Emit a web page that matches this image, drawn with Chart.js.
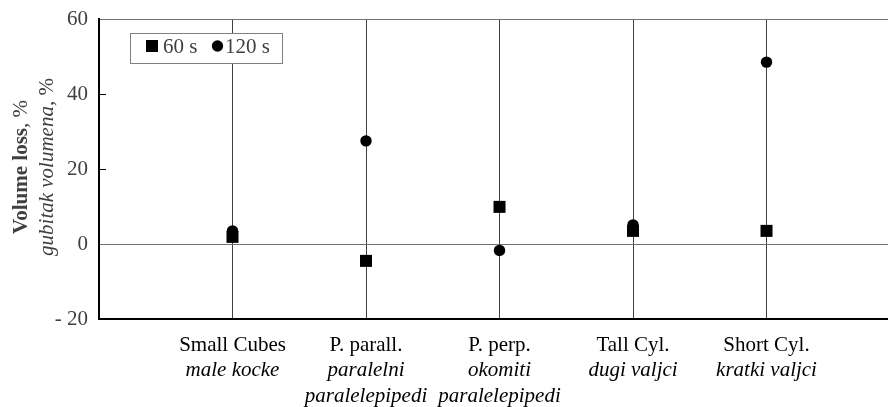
<!DOCTYPE html>
<html>
<head>
<meta charset="utf-8">
<script src="https://cdn.jsdelivr.net/npm/chart.js@4.4.0/dist/chart.umd.min.js"></script>
<style>
html,body{margin:0;padding:0;background:#fff;}
#wrap{width:888px;height:407px;position:relative;}
</style>
</head>
<body>
<div id="wrap"><canvas id="c" width="888" height="407"></canvas></div>
<script>
// ---- data ----
const categories = ['Small Cubes', 'P. parall.', 'P. perp.', 'Tall Cyl.', 'Short Cyl.'];
const categoriesLocal = [['male kocke'], ['paralelni', 'paralelepipedi'], ['okomiti', 'paralelepipedi'], ['dugi valjci'], ['kratki valjci']];
const series60 = [1.9, -4.5, 9.9, 3.5, 3.5];
const series120 = [3.5, 27.5, -1.7, 5.1, 48.5];
const seriesNames = ['60 s', '120 s'];
const yTicks = [-20, 0, 20, 40, 60];

const SERIF = '"Liberation Serif", "Times New Roman", serif';
const FS = 21;

function pts(arr){ return arr.map((v,i)=>({x:i+1, y:v})); }

const overlay = {
  id:'overlay',
  beforeDatasetsDraw(chart){
    const ctx = chart.ctx, ys = chart.scales.y, ca = chart.chartArea;
    ctx.save();
    ctx.strokeStyle = '#000'; ctx.lineWidth = 1;
    [20,40].forEach(v=>{
      const y = Math.round(ys.getPixelForValue(v))+0.5;
      ctx.beginPath(); ctx.moveTo(ca.left, y); ctx.lineTo(ca.left+7, y); ctx.stroke();
    });
    ctx.restore();
  },
  afterDraw(chart){
    const ctx = chart.ctx, xs = chart.scales.x;
    ctx.save();
    // x category labels
    ctx.textAlign = 'center'; ctx.textBaseline = 'alphabetic'; ctx.fillStyle = '#000';
    categories.forEach((c,i)=>{
      const x = xs.getPixelForValue(i+1);
      ctx.font = FS+'px '+SERIF;
      ctx.fillText(c, x, 351);
      ctx.font = 'italic '+FS+'px '+SERIF;
      categoriesLocal[i].forEach((l,j)=>ctx.fillText(l, x, 376 + j*26));
    });
    // y title (rotated, mixed fonts)
    function mixed(parts, cx, cy){
      let total = 0;
      parts.forEach(p=>{ctx.font = p[1]; total += ctx.measureText(p[0]).width;});
      ctx.save(); ctx.translate(cx, cy); ctx.rotate(-Math.PI/2);
      ctx.textAlign='left'; ctx.fillStyle='#404040';
      let x = -total/2;
      parts.forEach(p=>{ctx.font=p[1]; ctx.fillText(p[0], x, 0); x += ctx.measureText(p[0]).width;});
      ctx.restore();
    }
    mixed([['Volume loss', 'bold '+FS+'px '+SERIF], [', %', FS+'px '+SERIF]], 27, 167);
    mixed([['gubitak volumena', 'italic '+FS+'px '+SERIF], [', %', FS+'px '+SERIF]], 53, 167);
    // legend
    ctx.fillStyle='#fff'; ctx.fillRect(130.5, 33.5, 152, 30);
    ctx.strokeStyle='#808080'; ctx.lineWidth=1; ctx.strokeRect(130.5, 33.5, 152, 30);
    ctx.fillStyle='#000';
    ctx.fillRect(146, 40, 12, 12);
    ctx.beginPath(); ctx.arc(217.5, 46, 5.7, 0, Math.PI*2); ctx.fill();
    ctx.fillStyle='#404040'; ctx.font = FS+'px '+SERIF; ctx.textAlign='left'; ctx.textBaseline='alphabetic';
    ctx.fillText(seriesNames[0], 163, 53);
    ctx.fillText(seriesNames[1], 225, 53);
    ctx.restore();
  }
};

new Chart(document.getElementById('c'), {
  type:'scatter',
  data:{
    datasets:[
      {label:seriesNames[0], data:pts(series60), pointStyle:'rect', pointRadius:8.5, pointHoverRadius:8.5, backgroundColor:'#000', borderColor:'#000', borderWidth:0},
      {label:seriesNames[1], data:pts(series120), pointStyle:'circle', pointRadius:5.7, pointHoverRadius:5.7, backgroundColor:'#000', borderColor:'#000', borderWidth:0}
    ]
  },
  options:{
    responsive:false, animation:false, devicePixelRatio:1,
    layout:{autoPadding:false, padding:{top:19, right:0, bottom:0, left:0}},
    plugins:{legend:{display:false}, tooltip:{enabled:false}},
    scales:{
      x:{
        type:'linear', min:0, max:5.91,
        afterBuildTicks(s){ s.ticks = categories.map((c,i)=>({value:i+1})); },
        afterFit(s){ s.height = 88; s.paddingLeft = 0; s.paddingRight = 0; s.paddingTop = 0; s.paddingBottom = 0; },
        ticks:{display:false},
        grid:{color:'#404040', lineWidth:1, drawTicks:false},
        border:{color:'#000', width:2}
      },
      y:{
        type:'linear', min:-20, max:60,
        afterBuildTicks(s){ s.ticks = yTicks.map(v=>({value:v})); },
        afterFit(s){ s.width = 99; s.paddingTop = 0; s.paddingBottom = 0; s.paddingLeft = 0; s.paddingRight = 0; },
        ticks:{
          padding:11, color:'#404040', font:{family:SERIF, size:FS},
          callback:v=> v<0 ? '- '+Math.abs(v) : String(v)
        },
        grid:{drawTicks:false, lineWidth:1, color:ctx=> (ctx.tick && (ctx.tick.value===0 || ctx.tick.value===60)) ? '#707070' : 'rgba(0,0,0,0)'},
        border:{color:'#000', width:2}
      }
    }
  },
  plugins:[overlay]
});
</script>
</body>
</html>
